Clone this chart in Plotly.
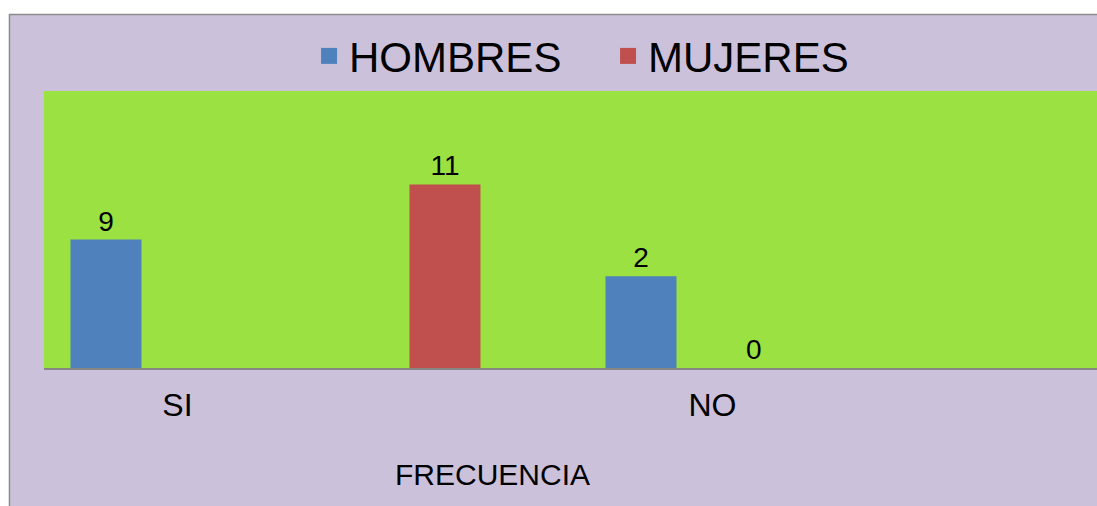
import plotly.graph_objects as go

# Categories and series (bar heights as drawn, labels as printed)
categorias = ["SI", "NO"]
hombres_altura = [7.7, 5.5]
mujeres_altura = [11, 0]
hombres_etiqueta = ["9", "2"]
mujeres_etiqueta = ["11", "0"]

AZUL = "#4F81BD"
ROJO = "#C0504D"
VERDE = "#9BE142"
LILA = "#CCC1DA"
FUENTE = "Liberation Sans, Arial, sans-serif"

fig = go.Figure()

fig.add_trace(go.Bar(
    x=categorias, y=hombres_altura, name="HOMBRES", showlegend=False,
    text=hombres_etiqueta, textposition="outside", constraintext="none",
    textfont=dict(size=28, color="black", family=FUENTE),
    marker=dict(color=AZUL, line=dict(width=0)),
    width=0.1327, offset=-0.2, cliponaxis=False,
))
fig.add_trace(go.Bar(
    x=categorias, y=mujeres_altura, name="MUJERES", showlegend=False,
    text=mujeres_etiqueta, textposition="outside", constraintext="none",
    textfont=dict(size=28, color="black", family=FUENTE),
    marker=dict(color=ROJO, line=dict(width=0)),
    width=0.1327, offset=[0.4336, 0.011], cliponaxis=False,
))

# legend entries with bigger square keys than the bar legend gives
for nombre, color in [("HOMBRES", AZUL), ("MUJERES", ROJO)]:
    fig.add_trace(go.Scatter(
        x=[None], y=[None], mode="markers", name=nombre,
        marker=dict(symbol="square", size=22, color=color),
    ))

# Chart area background with its thin grey frame, then the green plot area
fig.add_shape(
    type="rect", xref="paper", yref="paper", layer="below",
    x0=-0.0328, x1=1.02, y0=-0.6, y1=1.2762,
    fillcolor=LILA, line=dict(color="#8C8C8C", width=1.5),
)
fig.add_shape(
    type="rect", xref="paper", yref="paper", layer="below",
    x0=0, x1=1.02, y0=0, y1=1,
    fillcolor=VERDE, line=dict(width=0),
)

# Axis title sits left of the plot centre in the original
fig.add_annotation(
    text="FRECUENCIA", xref="paper", yref="paper",
    x=0.4264, y=-0.451, showarrow=False,
    font=dict(size=30, color="black", family=FUENTE),
)

fig.update_layout(
    width=1097, height=506,
    margin=dict(l=44, r=0, t=91, b=138),
    paper_bgcolor="white",
    plot_bgcolor=VERDE,
    barmode="overlay",
    font=dict(family=FUENTE, color="black"),
    legend=dict(
        orientation="h", x=0.2517, y=1.126, xanchor="left", yanchor="middle",
        font=dict(size=42, family=FUENTE), bgcolor="rgba(0,0,0,0)",
        itemwidth=30, entrywidth=254,
    ),
)

fig.update_xaxes(
    range=[-0.2495, 1.7187],
    showline=True, linecolor="#868686", linewidth=2,
    ticks="outside", ticklen=8, tickcolor="rgba(0,0,0,0)",
    tickfont=dict(size=32, family=FUENTE, color="black"),
    showgrid=False, zeroline=False,
)
fig.update_yaxes(
    range=[0, 16.6], visible=False, showgrid=False,
)

fig.write_html(
    "out.html",
    config={"displayModeBar": False},
    post_script="document.body.style.margin = '0';",
)
